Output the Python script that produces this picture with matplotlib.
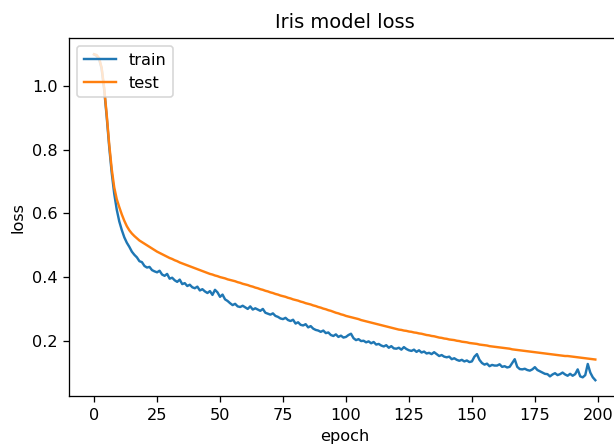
import matplotlib
matplotlib.use("Agg")
import matplotlib.pyplot as plt
import numpy as np

# loss per epoch
train_loss = [
    1.100, 1.095, 1.085, 1.055, 0.990, 0.905, 0.810, 0.728, 0.662, 0.612,
    0.575, 0.548, 0.525, 0.508, 0.495, 0.480, 0.470, 0.462, 0.450, 0.447,
    0.435, 0.430, 0.432, 0.422, 0.418, 0.415, 0.420, 0.408, 0.404, 0.410,
    0.395, 0.398, 0.390, 0.385, 0.392, 0.378, 0.381, 0.372, 0.376, 0.368,
    0.365, 0.370, 0.358, 0.362, 0.355, 0.350, 0.356, 0.344, 0.360, 0.352,
    0.338, 0.345, 0.330, 0.325, 0.318, 0.312, 0.316, 0.308, 0.306, 0.310,
    0.305, 0.300, 0.308, 0.298, 0.302, 0.298, 0.294, 0.300, 0.288, 0.285,
    0.282, 0.286, 0.278, 0.275, 0.270, 0.268, 0.272, 0.265, 0.262, 0.266,
    0.254, 0.258, 0.250, 0.248, 0.252, 0.242, 0.246, 0.238, 0.234, 0.232,
    0.228, 0.232, 0.224, 0.226, 0.218, 0.215, 0.220, 0.212, 0.216, 0.210,
    0.212, 0.218, 0.222, 0.208, 0.202, 0.205, 0.199, 0.200, 0.195, 0.198,
    0.192, 0.196, 0.188, 0.190, 0.185, 0.182, 0.186, 0.178, 0.183, 0.176,
    0.175, 0.178, 0.172, 0.180, 0.174, 0.170, 0.168, 0.172, 0.165, 0.170,
    0.163, 0.166, 0.160, 0.162, 0.158, 0.164, 0.158, 0.152, 0.155, 0.150,
    0.148, 0.150, 0.142, 0.145, 0.140, 0.137, 0.140, 0.135, 0.138, 0.133,
    0.135, 0.150, 0.158, 0.140, 0.130, 0.125, 0.128, 0.120, 0.124, 0.122,
    0.122, 0.126, 0.118, 0.120, 0.116, 0.118, 0.130, 0.142, 0.118, 0.111,
    0.110, 0.112, 0.108, 0.106, 0.110, 0.117, 0.108, 0.104, 0.100, 0.096,
    0.095, 0.088, 0.094, 0.098, 0.092, 0.095, 0.100, 0.094, 0.090, 0.096,
    0.090, 0.095, 0.110, 0.088, 0.085, 0.092, 0.127, 0.100, 0.085, 0.076,
]

test_loss = [
    1.100, 1.098, 1.088, 1.058, 0.995, 0.912, 0.818, 0.740, 0.682, 0.645,
    0.620, 0.597, 0.577, 0.560, 0.547, 0.537, 0.529, 0.522, 0.515, 0.510,
    0.505, 0.500, 0.495, 0.490, 0.485, 0.480, 0.476, 0.472, 0.468, 0.464,
    0.460, 0.457, 0.453, 0.450, 0.446, 0.443, 0.440, 0.437, 0.434, 0.431,
    0.428, 0.425, 0.422, 0.419, 0.416, 0.413, 0.410, 0.408, 0.405, 0.403,
    0.400, 0.398, 0.396, 0.393, 0.391, 0.389, 0.387, 0.384, 0.382, 0.379,
    0.377, 0.375, 0.372, 0.370, 0.367, 0.365, 0.362, 0.360, 0.357, 0.355,
    0.352, 0.350, 0.347, 0.345, 0.342, 0.340, 0.338, 0.335, 0.333, 0.330,
    0.328, 0.326, 0.323, 0.321, 0.318, 0.316, 0.314, 0.311, 0.309, 0.306,
    0.304, 0.301, 0.299, 0.296, 0.294, 0.291, 0.288, 0.286, 0.283, 0.281,
    0.278, 0.276, 0.274, 0.272, 0.270, 0.268, 0.265, 0.263, 0.261, 0.259,
    0.257, 0.255, 0.253, 0.251, 0.249, 0.247, 0.245, 0.243, 0.241, 0.239,
    0.237, 0.235, 0.234, 0.232, 0.231, 0.229, 0.228, 0.226, 0.225, 0.223,
    0.222, 0.220, 0.218, 0.217, 0.215, 0.214, 0.212, 0.210, 0.209, 0.207,
    0.206, 0.204, 0.203, 0.202, 0.200, 0.199, 0.197, 0.196, 0.195, 0.193,
    0.192, 0.191, 0.190, 0.188, 0.187, 0.186, 0.185, 0.183, 0.182, 0.181,
    0.180, 0.179, 0.178, 0.177, 0.176, 0.175, 0.173, 0.172, 0.171, 0.170,
    0.169, 0.168, 0.167, 0.166, 0.165, 0.164, 0.163, 0.162, 0.161, 0.160,
    0.159, 0.158, 0.157, 0.156, 0.155, 0.154, 0.153, 0.152, 0.152, 0.151,
    0.150, 0.149, 0.148, 0.147, 0.146, 0.145, 0.144, 0.143, 0.142, 0.141,
]

epochs = np.arange(len(train_loss))

DPI = 116
fig = plt.figure(figsize=(614 / DPI, 446 / DPI), dpi=DPI)
# the reference is cropped: the right spine falls just outside the picture
ax = fig.add_axes([0.1124, 0.1110, 0.898, 0.8037])

ax.plot(epochs, train_loss, label='train')
ax.plot(epochs, test_loss, label='test')
ax.set_title('Iris model loss')
ax.set_ylabel('loss')
ax.set_xlabel('epoch')
ax.set_xticks([0, 25, 50, 75, 100, 125, 150, 175, 200])
ax.legend(['train', 'test'], loc='upper left')

fig.savefig('out.png', dpi=DPI)
